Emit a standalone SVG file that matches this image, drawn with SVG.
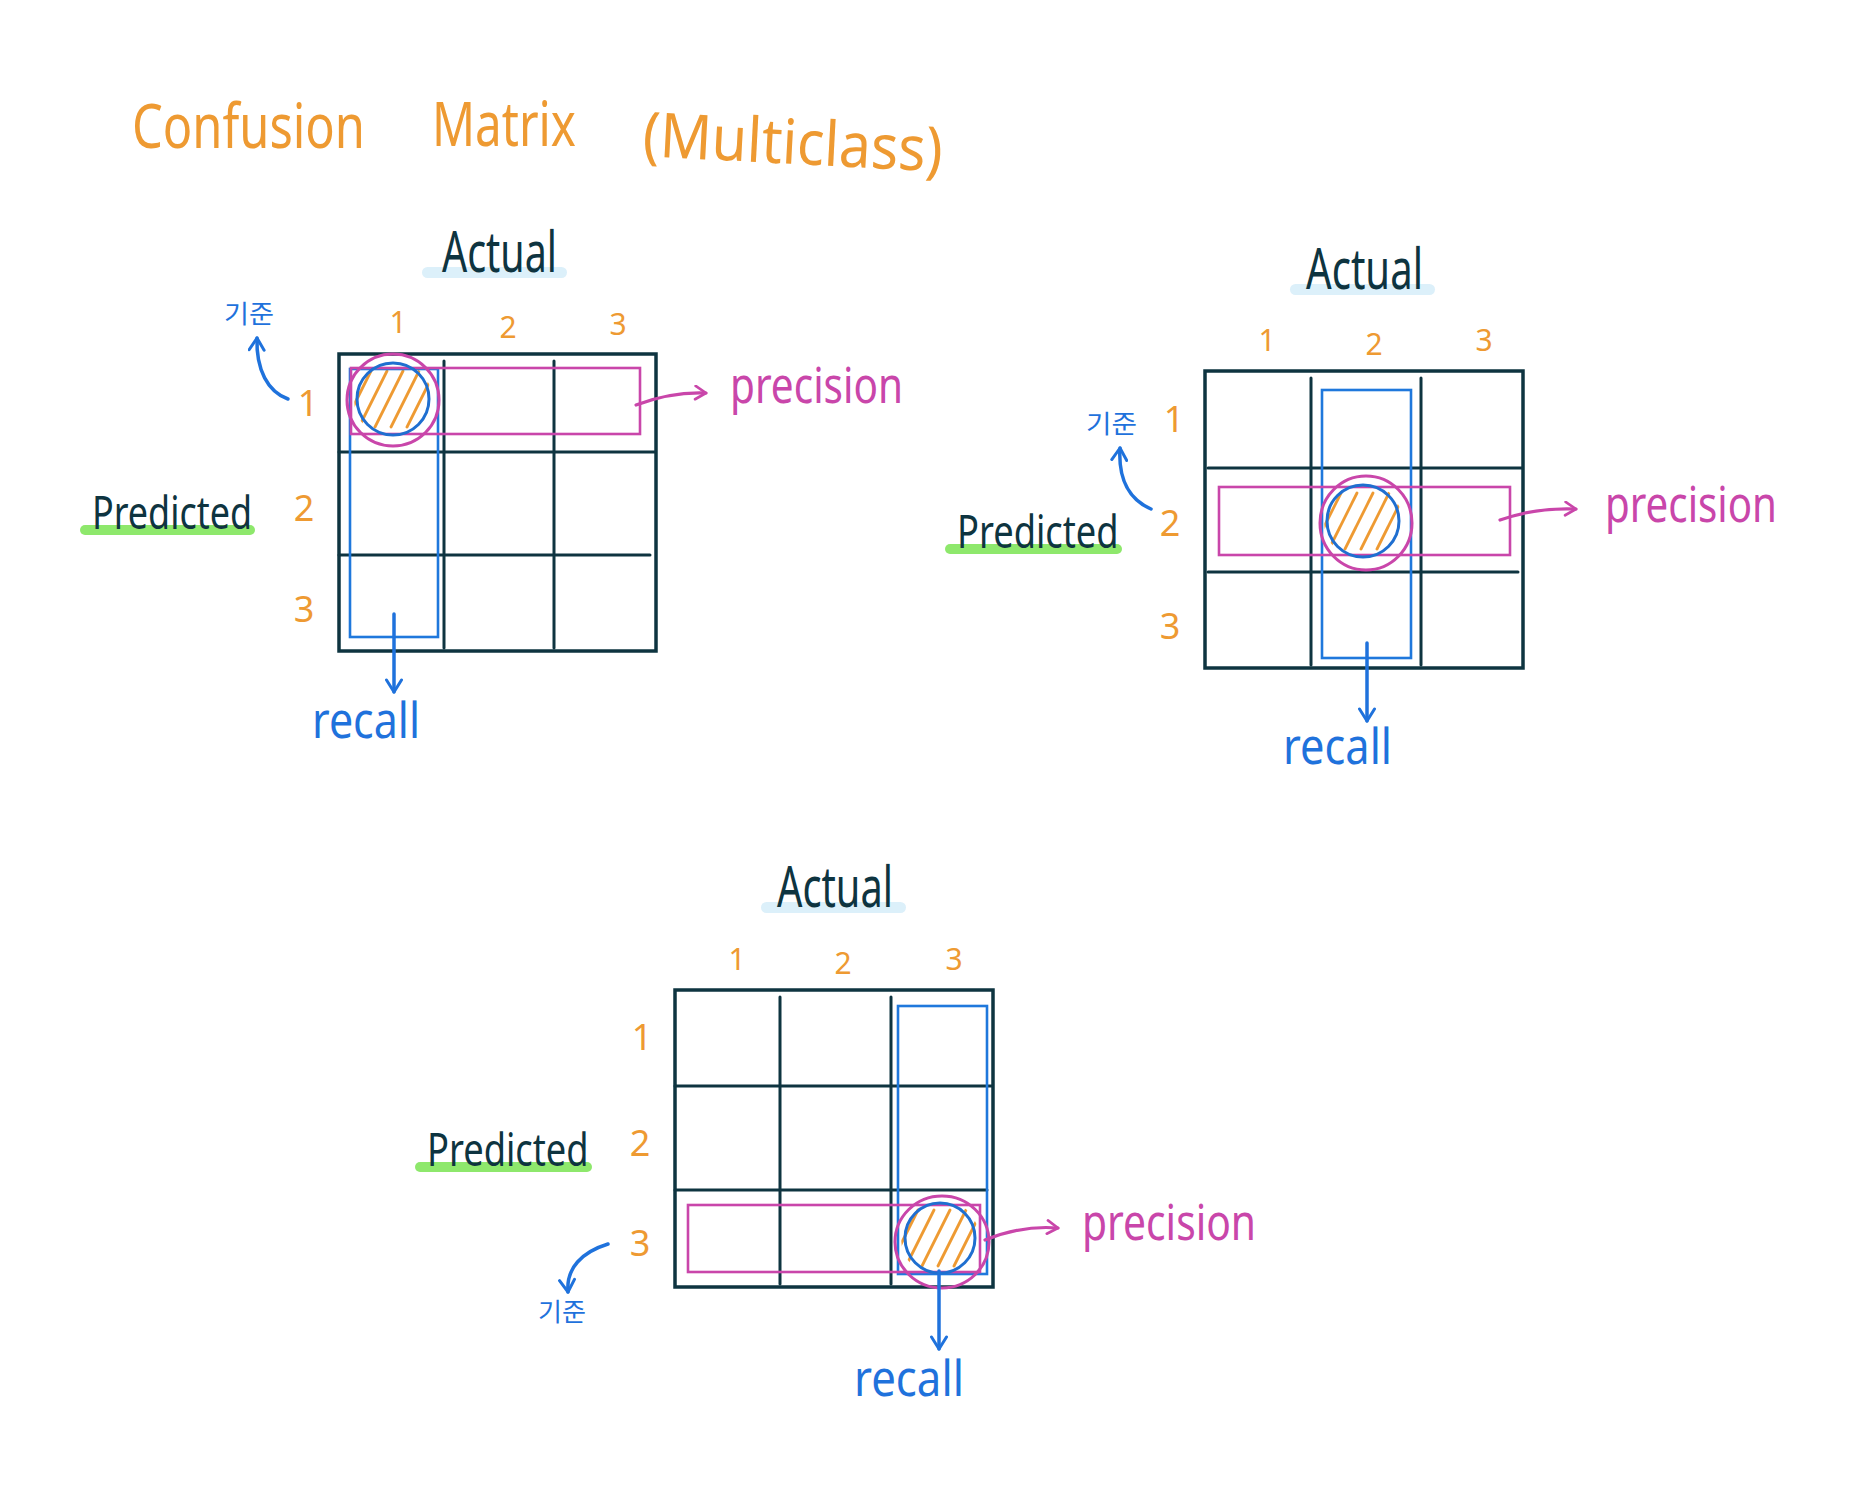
<svg xmlns="http://www.w3.org/2000/svg" xmlns:xlink="http://www.w3.org/1999/xlink" width="1864" height="1496" viewBox="0 0 1864 1496">
<style>
.grid{fill:none;stroke:#0E3440;stroke-width:3.5;stroke-linecap:round}
.gl{stroke:#0E3440;stroke-width:3;stroke-linecap:round}
.brect{fill:none;stroke:#1F78DC;stroke-width:2.6}
.prect{fill:none;stroke:#C946AA;stroke-width:2.6}
.bcirc{fill:none;stroke:#1F6FD0;stroke-width:3}
.pcirc{fill:none;stroke:#C946AA;stroke-width:3}
.ttl{font-family:"Noto Sans","Liberation Sans",sans-serif;fill:#EE9A32;font-size:62px}
.dark{font-family:"Noto Sans","Liberation Sans",sans-serif;fill:#0E3440}
.act{font-size:56px}
.pred{font-size:46px}
.prec{font-family:"Noto Sans","Liberation Sans",sans-serif;fill:#C946AA;font-size:50px}
.rec{font-family:"Noto Sans","Liberation Sans",sans-serif;fill:#1F72DC;font-size:50px}
.kj{font-family:"Noto Sans CJK KR","Noto Sans",sans-serif;fill:#1F72DC;font-size:25px}
.num{font-family:"Noto Sans","Liberation Sans",sans-serif;fill:#EE9A32;text-anchor:middle}
.cn{font-size:30px}
.rn{font-size:36px}
.bandA{fill:#DCF0FA}
.bandP{fill:#8EE86C}
.pa{fill:none;stroke:#C946AA;stroke-width:3.2;stroke-linecap:round}
.ba{fill:none;stroke:#1F72DC;stroke-width:3.5;stroke-linecap:round}
</style>
<defs>
<marker id="mb" viewBox="0 0 12 12" refX="10" refY="6" markerWidth="18" markerHeight="18" markerUnits="userSpaceOnUse" orient="auto">
<path d="M2,1 L10,6 L2,11" fill="none" stroke="#1F72DC" stroke-width="2" stroke-linecap="round" stroke-linejoin="round"/>
</marker>
<marker id="mp" viewBox="0 0 12 12" refX="10" refY="6" markerWidth="16" markerHeight="16" markerUnits="userSpaceOnUse" orient="auto">
<path d="M2,1 L10,6 L2,11" fill="none" stroke="#C946AA" stroke-width="2" stroke-linecap="round" stroke-linejoin="round"/>
</marker>
<clipPath id="hc"><circle cx="0" cy="0" r="39"/></clipPath>
<g id="hatch" clip-path="url(#hc)" stroke="#EE9A32" stroke-width="2.8" stroke-linecap="round">
<line x1="-50" y1="28" x2="-22" y2="-28"/>
<line x1="-34" y1="28" x2="-6" y2="-28"/>
<line x1="-18" y1="28" x2="10" y2="-28"/>
<line x1="-2" y1="28" x2="26" y2="-28"/>
<line x1="14" y1="28" x2="42" y2="-28"/>
<line x1="30" y1="34" x2="54" y2="-12"/>
</g>
</defs>
<rect width="1864" height="1496" fill="#FFFFFF"/>

<g id="title">
<text class="ttl" x="132" y="148" textLength="233" lengthAdjust="spacingAndGlyphs">Confusion</text>
<text class="ttl" x="432" y="146" textLength="144" lengthAdjust="spacingAndGlyphs">Matrix</text>
<text class="ttl" x="642" y="156" textLength="300" lengthAdjust="spacingAndGlyphs" transform="rotate(3 642 156)">(Multiclass)</text>
</g>

<!-- Matrix 1 -->
<g id="matrix1">
<rect class="grid" x="339" y="354" width="317" height="297"/>
<line class="gl" x1="444" y1="361" x2="444" y2="648"/>
<line class="gl" x1="554" y1="361" x2="554" y2="648"/>
<line class="gl" x1="339" y1="452" x2="655" y2="452"/>
<line class="gl" x1="339" y1="555" x2="650" y2="555"/>
<use xlink:href="#hatch" x="393" y="399"/>
<rect class="brect" x="350" y="369" width="88" height="268"/>
<rect class="prect" x="351" y="368" width="289" height="66"/>
<circle class="bcirc" cx="393" cy="399" r="36"/>
<ellipse class="pcirc" cx="393" cy="400" rx="46" ry="46"/>
</g>
<g id="m1-labels">
<rect class="bandA" x="422" y="267" width="145" height="11" rx="5.5"/>
<text class="dark act" x="442" y="272" textLength="115" lengthAdjust="spacingAndGlyphs">Actual</text>
<rect class="bandP" x="80" y="525" width="175" height="10" rx="5"/>
<text class="dark pred" transform="translate(92 529) scale(0.8 1)" x="0" y="0" textLength="200" lengthAdjust="spacingAndGlyphs">Predicted</text>
<text class="prec" x="730" y="403" textLength="173" lengthAdjust="spacingAndGlyphs">precision</text>
<text class="rec" x="312" y="738" textLength="108" lengthAdjust="spacingAndGlyphs">recall</text>
<text class="kj" x="224" y="323" textLength="50" lengthAdjust="spacingAndGlyphs">기준</text>
<text class="num cn" x="398" y="333">1</text>
<text class="num cn" x="508" y="338">2</text>
<text class="num cn" x="618" y="335">3</text>
<text class="num rn" x="308" y="416">1</text>
<text class="num rn" x="304" y="521">2</text>
<text class="num rn" x="304" y="622">3</text>
</g>

<!-- Matrix 2 -->
<g id="matrix2">
<rect class="grid" x="1205" y="371" width="318" height="297"/>
<line class="gl" x1="1311" y1="378" x2="1311" y2="665"/>
<line class="gl" x1="1421" y1="378" x2="1421" y2="665"/>
<line class="gl" x1="1208" y1="468" x2="1522" y2="468"/>
<line class="gl" x1="1208" y1="572" x2="1518" y2="572"/>
<use xlink:href="#hatch" x="1363" y="521"/>
<rect class="brect" x="1322" y="390" width="89" height="268"/>
<rect class="prect" x="1219" y="487" width="291" height="68"/>
<circle class="bcirc" cx="1363" cy="521" r="36"/>
<ellipse class="pcirc" cx="1366" cy="523" rx="46" ry="47"/>
</g>
<g id="m2-labels">
<rect class="bandA" x="1290" y="284" width="145" height="11" rx="5.5"/>
<text class="dark act" x="1306" y="289" textLength="117" lengthAdjust="spacingAndGlyphs">Actual</text>
<rect class="bandP" x="945" y="544" width="177" height="10" rx="5"/>
<text class="dark pred" transform="translate(957 548) scale(0.8 1)" x="0" y="0" textLength="202" lengthAdjust="spacingAndGlyphs">Predicted</text>
<text class="prec" x="1605" y="522" textLength="172" lengthAdjust="spacingAndGlyphs">precision</text>
<text class="rec" x="1283" y="764" textLength="109" lengthAdjust="spacingAndGlyphs">recall</text>
<text class="kj" x="1086" y="433" textLength="51" lengthAdjust="spacingAndGlyphs">기준</text>
<text class="num cn" x="1267" y="351">1</text>
<text class="num cn" x="1374" y="355">2</text>
<text class="num cn" x="1484" y="351">3</text>
<text class="num rn" x="1174" y="432">1</text>
<text class="num rn" x="1170" y="536">2</text>
<text class="num rn" x="1170" y="639">3</text>
</g>

<!-- Matrix 3 -->
<g id="matrix3">
<rect class="grid" x="675" y="990" width="318" height="297"/>
<line class="gl" x1="780" y1="997" x2="780" y2="1284"/>
<line class="gl" x1="891" y1="997" x2="891" y2="1284"/>
<line class="gl" x1="675" y1="1086" x2="992" y2="1086"/>
<line class="gl" x1="675" y1="1190" x2="987" y2="1190"/>
<use xlink:href="#hatch" x="940" y="1238"/>
<rect class="brect" x="898" y="1006" width="89" height="268"/>
<rect class="prect" x="688" y="1205" width="292" height="67"/>
<circle class="bcirc" cx="940" cy="1238" r="35"/>
<ellipse class="pcirc" cx="942" cy="1242" rx="47" ry="46"/>
</g>
<g id="m3-labels">
<rect class="bandA" x="761" y="902" width="145" height="11" rx="5.5"/>
<text class="dark act" x="777" y="907" textLength="116" lengthAdjust="spacingAndGlyphs">Actual</text>
<rect class="bandP" x="415" y="1162" width="177" height="10" rx="5"/>
<text class="dark pred" transform="translate(427 1166) scale(0.8 1)" x="0" y="0" textLength="202" lengthAdjust="spacingAndGlyphs">Predicted</text>
<text class="prec" x="1082" y="1240" textLength="174" lengthAdjust="spacingAndGlyphs">precision</text>
<text class="rec" x="854" y="1396" textLength="110" lengthAdjust="spacingAndGlyphs">recall</text>
<text class="kj" x="538" y="1321" textLength="48" lengthAdjust="spacingAndGlyphs">기준</text>
<text class="num cn" x="737" y="970">1</text>
<text class="num cn" x="843" y="974">2</text>
<text class="num cn" x="954" y="970">3</text>
<text class="num rn" x="642" y="1050">1</text>
<text class="num rn" x="640" y="1156">2</text>
<text class="num rn" x="640" y="1256">3</text>
</g>

<g id="connectors">
<path class="pa" d="M636,405 C660,396 682,392 706,393" marker-end="url(#mp)"/>
<path class="ba" d="M394,614 L394,692" marker-end="url(#mb)"/>
<path class="ba" d="M288,399 C268,392 256,370 257,338" marker-end="url(#mb)"/>
<path class="pa" d="M1500,520 C1525,511 1550,508 1576,509" marker-end="url(#mp)"/>
<path class="ba" d="M1367,643 L1367,721" marker-end="url(#mb)"/>
<path class="ba" d="M1151,509 C1130,500 1118,480 1120,448" marker-end="url(#mb)"/>
<path class="pa" d="M985,1240 C1010,1230 1035,1226 1058,1228" marker-end="url(#mp)"/>
<path class="ba" d="M939,1271 L939,1349" marker-end="url(#mb)"/>
<path class="ba" d="M608,1244 C582,1252 566,1268 568,1292" marker-end="url(#mb)"/>
</g>
</svg>
